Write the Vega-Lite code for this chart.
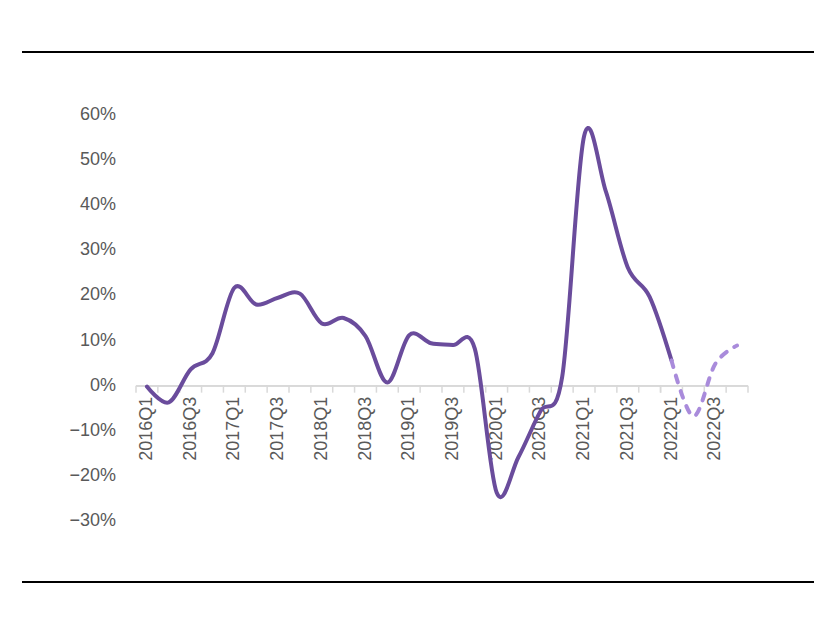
{
  "$schema": "https://vega.github.io/schema/vega-lite/v6.json",
  "width": 612,
  "height": 406,
  "autosize": {"type": "none"},
  "padding": {"left": 136, "top": 115, "right": 66, "bottom": 104},
  "background": "white",
  "config": {"view": {"stroke": null}},
  "data": {
    "values": [
      {"q": "2016Q1", "v": -0.002, "s": "实际"},
      {"q": "2016Q2", "v": -0.037, "s": "实际"},
      {"q": "2016Q3", "v": 0.036, "s": "实际"},
      {"q": "2016Q4", "v": 0.072, "s": "实际"},
      {"q": "2017Q1", "v": 0.217, "s": "实际"},
      {"q": "2017Q2", "v": 0.18, "s": "实际"},
      {"q": "2017Q3", "v": 0.195, "s": "实际"},
      {"q": "2017Q4", "v": 0.204, "s": "实际"},
      {"q": "2018Q1", "v": 0.138, "s": "实际"},
      {"q": "2018Q2", "v": 0.15, "s": "实际"},
      {"q": "2018Q3", "v": 0.11, "s": "实际"},
      {"q": "2018Q4", "v": 0.007, "s": "实际"},
      {"q": "2019Q1", "v": 0.112, "s": "实际"},
      {"q": "2019Q2", "v": 0.094, "s": "实际"},
      {"q": "2019Q3", "v": 0.09, "s": "实际"},
      {"q": "2019Q4", "v": 0.082, "s": "实际"},
      {"q": "2020Q1", "v": -0.237, "s": "实际"},
      {"q": "2020Q2", "v": -0.158, "s": "实际"},
      {"q": "2020Q3", "v": -0.057, "s": "实际"},
      {"q": "2020Q4", "v": 0.02, "s": "实际"},
      {"q": "2021Q1", "v": 0.553, "s": "实际"},
      {"q": "2021Q2", "v": 0.43, "s": "实际"},
      {"q": "2021Q3", "v": 0.262, "s": "实际"},
      {"q": "2021Q4", "v": 0.197, "s": "实际"},
      {"q": "2022Q1", "v": 0.056, "s": "实际"},
      {"q": "2022Q1", "v": 0.056, "s": "预测"},
      {"q": "2022Q2", "v": -0.068, "s": "预测"},
      {"q": "2022Q3", "v": 0.048, "s": "预测"},
      {"q": "2022Q4", "v": 0.089, "s": "预测"}
    ]
  },
  "layer": [
    {
      "encoding": {
        "x": {
          "field": "q",
          "type": "ordinal",
          "scale": {
            "domain": ["2016Q1","2016Q2","2016Q3","2016Q4","2017Q1","2017Q2","2017Q3","2017Q4","2018Q1","2018Q2","2018Q3","2018Q4","2019Q1","2019Q2","2019Q3","2019Q4","2020Q1","2020Q2","2020Q3","2020Q4","2021Q1","2021Q2","2021Q3","2021Q4","2022Q1","2022Q2","2022Q3","2022Q4"],
            "paddingInner": 0,
            "paddingOuter": 0
          },
          "axis": null
        },
        "y": {
          "field": "v",
          "type": "quantitative",
          "scale": {"domain": [-0.3, 0.6], "nice": false, "zero": false},
          "axis": null
        }
      },
      "layer": [
        {
          "mark": {"type": "rule", "color": "#D9D9D9", "strokeWidth": 1.5},
          "encoding": {
            "x": null,
            "y": {"datum": 0, "type": "quantitative", "axis": null}
          }
        },
        {
          "mark": {"type": "rule", "color": "#D9D9D9", "strokeWidth": 1.5},
          "encoding": {
            "x": {"field": "q", "type": "ordinal", "bandPosition": 0, "axis": null},
            "y": {"datum": 0, "type": "quantitative", "axis": null},
            "y2": {"datum": -0.0155}
          }
        },
        {
          "transform": [{"filter": "datum.q === '2022Q4'"}],
          "mark": {"type": "rule", "color": "#D9D9D9", "strokeWidth": 1.5},
          "encoding": {
            "x": {"field": "q", "type": "ordinal", "bandPosition": 1, "axis": null},
            "y": {"datum": 0, "type": "quantitative", "axis": null},
            "y2": {"datum": -0.0155}
          }
        },
        {
          "transform": [{"filter": "(indexof(datum.q, 'Q1') > 0 || indexof(datum.q, 'Q3') > 0) && !(datum.q === '2022Q1' && datum.s === '预测')"}],
          "mark": {"type": "text", "angle": 270, "align": "right", "baseline": "middle", "dx": -11, "font": "Liberation Sans", "fontSize": 18, "color": "#595959"},
          "encoding": {
            "x": {"field": "q", "type": "ordinal", "axis": null},
            "y": {"datum": 0, "type": "quantitative", "axis": null},
            "text": {"field": "q"}
          }
        },
        {
          "data": {"values": [{"t": -0.3}, {"t": -0.2}, {"t": -0.1}, {"t": 0}, {"t": 0.1}, {"t": 0.2}, {"t": 0.3}, {"t": 0.4}, {"t": 0.5}, {"t": 0.6}]},
          "mark": {"type": "text", "align": "right", "baseline": "middle", "dx": -31, "font": "Liberation Sans", "fontSize": 18, "color": "#595959"},
          "encoding": {
            "x": {"datum": "2016Q1", "type": "ordinal", "axis": null},
            "y": {"field": "t", "type": "quantitative", "axis": null},
            "text": {"field": "t", "type": "quantitative", "format": ".0%"}
          }
        },
        {
          "data": {"values": [{}]},
          "mark": {"type": "text", "align": "left", "baseline": "middle", "dx": -110, "font": "Noto Sans CJK SC", "fontSize": 28, "fontWeight": "bold", "color": "#000000"},
          "encoding": {
            "x": {"datum": "2016Q1", "type": "ordinal", "axis": null},
            "y": {"datum": 0.7773, "type": "quantitative", "axis": null},
            "text": {"value": "预期全A归母净利润增速将在2022H1触底"}
          }
        },
        {
          "data": {"values": [{}]},
          "mark": {"type": "text", "align": "left", "baseline": "middle", "dx": -107, "font": "Noto Sans CJK SC", "fontSize": 23, "fontWeight": "normal", "color": "#000000"},
          "encoding": {
            "x": {"datum": "2016Q1", "type": "ordinal", "axis": null},
            "y": {"datum": -0.4773, "type": "quantitative", "axis": null},
            "text": {"value": "资料来源：Wind 资讯，华鑫证券研究"}
          }
        },
        {
          "transform": [{"filter": "datum.s === '实际'"}],
          "mark": {"type": "line", "interpolate": "cardinal", "strokeWidth": 4, "strokeCap": "round", "color": "#6A4C9C"}
        },
        {
          "transform": [{"filter": "datum.s === '预测'"}],
          "mark": {"type": "line", "interpolate": "cardinal", "strokeWidth": 4, "strokeCap": "round", "color": "#A98BDB", "strokeDash": [7, 9]}
        }
      ]
    },
    {
      "data": {"values": [{}]},
      "mark": {"type": "rule", "color": "#000000", "strokeWidth": 2},
      "encoding": {
        "x": {"datum": -0.18627, "type": "quantitative", "scale": {"domain": [0, 1], "nice": false, "zero": false}, "axis": null},
        "x2": {"datum": 1.10784},
        "y": {"datum": 1.15517, "type": "quantitative", "scale": {"domain": [0, 1], "nice": false, "zero": false}, "axis": null}
      }
    },
    {
      "data": {"values": [{}]},
      "mark": {"type": "rule", "color": "#000000", "strokeWidth": 2},
      "encoding": {
        "x": {"datum": -0.18627, "type": "quantitative", "scale": {"domain": [0, 1], "nice": false, "zero": false}, "axis": null},
        "x2": {"datum": 1.10784},
        "y": {"datum": -0.15025, "type": "quantitative", "scale": {"domain": [0, 1], "nice": false, "zero": false}, "axis": null}
      }
    }
  ],
  "resolve": {
    "scale": {"x": "independent", "y": "independent"},
    "axis": {"x": "independent", "y": "independent"}
  }
}
